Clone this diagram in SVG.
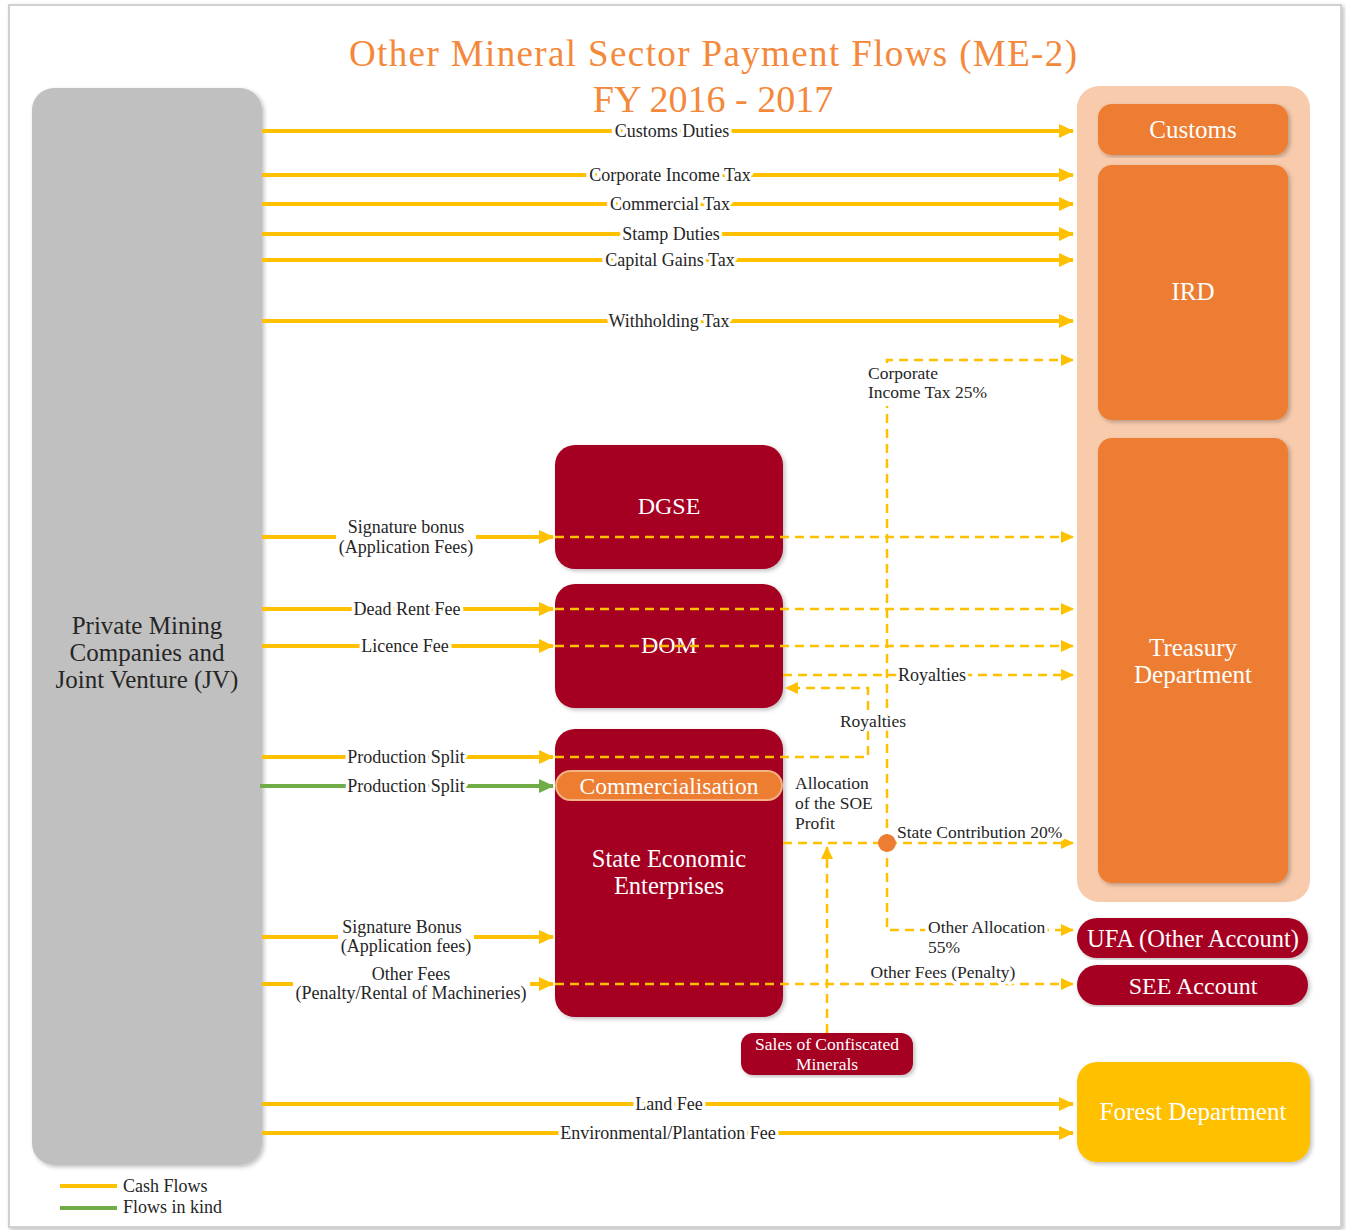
<svg xmlns="http://www.w3.org/2000/svg" width="1346" height="1230" viewBox="0 0 1346 1230">
<style>
text{font-family:"Liberation Serif","DejaVu Serif",serif;fill:#262626}
.lbl{font-size:18px;paint-order:stroke;stroke:#fff;stroke-width:7px;stroke-linejoin:round}
.sm{font-size:17.5px}
.wt{fill:#fff;text-anchor:middle}
.cash{stroke:#ffc000;stroke-width:4;fill:none}
.kind{stroke:#70ad47;stroke-width:4;fill:none}
.dash{stroke:#ffc000;stroke-width:2.5;fill:none;stroke-dasharray:9 6}
.mid{text-anchor:middle}
.bg{fill:#fff}
</style>
<defs>
<marker id="ah" markerUnits="userSpaceOnUse" markerWidth="16" markerHeight="16" refX="14" refY="8" orient="auto"><path d="M0,1 L15,8 L0,15 z" fill="#ffc000"/></marker>
<marker id="ahs" markerUnits="userSpaceOnUse" markerWidth="14" markerHeight="14" refX="12" refY="7" orient="auto"><path d="M0,1 L13,7 L0,13 z" fill="#ffc000"/></marker>
<marker id="ahg" markerUnits="userSpaceOnUse" markerWidth="16" markerHeight="16" refX="14" refY="8" orient="auto"><path d="M0,1 L15,8 L0,15 z" fill="#70ad47"/></marker>
<filter id="sh" x="-5%" y="-5%" width="110%" height="110%"><feDropShadow dx="2" dy="2" stdDeviation="2" flood-color="#000" flood-opacity="0.25"/></filter>
</defs>
<rect x="0" y="0" width="1346" height="1230" fill="#fff"/>
<rect x="9" y="5" width="1332" height="1222" fill="#fff" stroke="#d0d0d0" stroke-width="2" filter="url(#sh)"/>

<g id="title">
<text x="713" y="66" class="mid" style="font-size:37px;fill:#f4883b" textLength="728">Other Mineral Sector Payment Flows (ME-2)</text>
<text x="713" y="112" class="mid" style="font-size:38px;fill:#f4883b">FY 2016 - 2017</text>
</g>

<g id="private">
<rect x="32" y="88" width="230" height="1077" rx="22" fill="#c0c0c0" filter="url(#sh)"/>
<text x="147" y="634" class="mid" style="font-size:25px">Private Mining</text>
<text x="147" y="661" class="mid" style="font-size:25px">Companies and</text>
<text x="147" y="688" class="mid" style="font-size:25px">Joint Venture (JV)</text>
</g>

<g id="government">
<rect x="1077" y="86" width="233" height="816" rx="22" fill="#f8cbad"/>
</g>
<g id="customs"><rect x="1098" y="104" width="190" height="51" rx="14" fill="#ed7d31" filter="url(#sh)"/><text x="1193" y="138" class="wt" style="font-size:25px">Customs</text></g>
<g id="ird"><rect x="1098" y="165" width="190" height="255" rx="14" fill="#ed7d31" filter="url(#sh)"/><text x="1193" y="300" class="wt" style="font-size:25px">IRD</text></g>
<g id="treasury"><rect x="1098" y="438" width="190" height="445" rx="14" fill="#ed7d31" filter="url(#sh)"/><text x="1193" y="656" class="wt" style="font-size:25px">Treasury</text><text x="1193" y="683" class="wt" style="font-size:25px">Department</text></g>
<g id="ufa"><rect x="1077" y="918" width="231" height="40" rx="20" fill="#a50021" filter="url(#sh)"/><text x="1193" y="947" class="wt" style="font-size:24.5px">UFA (Other Account)</text></g>
<g id="seeacc"><rect x="1077" y="965" width="231" height="40" rx="20" fill="#a50021" filter="url(#sh)"/><text x="1193" y="994" class="wt" style="font-size:24px">SEE Account</text></g>
<g id="forest"><rect x="1077" y="1062" width="233" height="100" rx="20" fill="#ffc000" filter="url(#sh)"/><text x="1193" y="1120" class="wt" style="font-size:25px">Forest Department</text></g>

<g id="dgse"><rect x="555" y="445" width="228" height="124" rx="20" fill="#a50021" filter="url(#sh)"/><text x="669" y="514" class="wt" style="font-size:24px">DGSE</text></g>
<g id="dom"><rect x="555" y="584" width="228" height="124" rx="20" fill="#a50021" filter="url(#sh)"/><text x="669" y="653" class="wt" style="font-size:24px">DOM</text></g>
<g id="see"><rect x="555" y="729" width="228" height="288" rx="20" fill="#a50021" filter="url(#sh)"/><text x="669" y="867" class="wt" style="font-size:24.5px">State Economic</text><text x="669" y="894" class="wt" style="font-size:24.5px">Enterprises</text></g>
<g id="commercialisation"><rect x="556" y="771" width="226" height="29" rx="14.5" fill="#ed7d31" stroke="#f4b183" stroke-width="2"/><text x="669" y="794" class="wt" style="font-size:23.5px">Commercialisation</text></g>
<g id="sales"><rect x="741" y="1033" width="172" height="42" rx="12" fill="#a50021" filter="url(#sh)"/><text x="827" y="1050" class="wt" style="font-size:17.5px">Sales of Confiscated</text><text x="827" y="1070" class="wt" style="font-size:17.5px">Minerals</text></g>

<g id="connectors">
<path class="cash" d="M262,131 H1073" marker-end="url(#ah)"/>
<path class="cash" d="M262,175 H1073" marker-end="url(#ah)"/>
<path class="cash" d="M262,204 H1073" marker-end="url(#ah)"/>
<path class="cash" d="M262,234 H1073" marker-end="url(#ah)"/>
<path class="cash" d="M262,260 H1073" marker-end="url(#ah)"/>
<path class="cash" d="M262,321 H1073" marker-end="url(#ah)"/>
<path class="cash" d="M262,537 H553" marker-end="url(#ah)"/>
<path class="cash" d="M262,609 H553" marker-end="url(#ah)"/>
<path class="cash" d="M262,646 H553" marker-end="url(#ah)"/>
<path class="cash" d="M262,757 H553" marker-end="url(#ah)"/>
<path class="kind" d="M260,786 H553" marker-end="url(#ahg)"/>
<path class="cash" d="M262,937 H553" marker-end="url(#ah)"/>
<path class="cash" d="M262,984 H553" marker-end="url(#ah)"/>
<path class="cash" d="M262,1104 H1073" marker-end="url(#ah)"/>
<path class="cash" d="M262,1133 H1073" marker-end="url(#ah)"/>
<path class="dash" d="M555,537 H1073" marker-end="url(#ahs)"/>
<path class="dash" d="M555,609 H1073" marker-end="url(#ahs)"/>
<path class="dash" d="M555,646 H1073" marker-end="url(#ahs)"/>
<path class="dash" d="M783,675 H1073" marker-end="url(#ahs)"/>
<path class="dash" d="M555,757 H868 V688 H786" marker-end="url(#ahs)"/>
<path class="dash" d="M887,843 V360 H1073" marker-end="url(#ahs)"/>
<path class="dash" d="M783,843 H1073" marker-end="url(#ahs)"/>
<path class="dash" d="M887,843 V930 H1073" marker-end="url(#ahs)"/>
<path class="dash" d="M555,984 H1073" marker-end="url(#ahs)"/>
<path class="dash" d="M827,1033 V847" marker-end="url(#ahs)"/>
<circle cx="887" cy="843" r="9" fill="#ed7d31"/>
</g>

<g id="labels">
<rect class="bg" x="336" y="518" width="140" height="38"/>
<rect class="bg" x="338" y="919" width="136" height="36"/>
<rect class="bg" x="293" y="965" width="237" height="37"/>
<text x="672" y="137" class="lbl mid">Customs Duties</text>
<text x="670" y="181" class="lbl mid">Corporate Income Tax</text>
<text x="670" y="210" class="lbl mid">Commercial Tax</text>
<text x="671" y="240" class="lbl mid">Stamp Duties</text>
<text x="670" y="266" class="lbl mid">Capital Gains Tax</text>
<text x="669" y="327" class="lbl mid">Withholding Tax</text>
<text x="406" y="533" class="lbl mid">Signature bonus</text>
<text x="406" y="553" class="lbl mid">(Application Fees)</text>
<text x="407" y="615" class="lbl mid">Dead Rent Fee</text>
<text x="405" y="652" class="lbl mid">Licence Fee</text>
<text x="406" y="763" class="lbl mid">Production Split</text>
<text x="406" y="792" class="lbl mid">Production Split</text>
<text x="402" y="933" class="lbl mid">Signature Bonus</text>
<text x="406" y="952" class="lbl mid">(Application fees)</text>
<text x="411" y="980" class="lbl mid">Other Fees</text>
<text x="411" y="999" class="lbl mid">(Penalty/Rental of Machineries)</text>
<text x="669" y="1110" class="lbl mid">Land Fee</text>
<text x="668" y="1139" class="lbl mid">Environmental/Plantation Fee</text>
<rect class="bg" x="866" y="364" width="126" height="42"/>
<text x="868" y="379" class="lbl sm">Corporate</text>
<text x="868" y="398" class="lbl sm">Income Tax 25%</text>
<text x="932" y="681" class="lbl mid">Royalties</text>
<text x="873" y="727" class="lbl mid sm">Royalties</text>
<text x="795" y="789" class="lbl sm">Allocation</text>
<text x="795" y="809" class="lbl sm">of the SOE</text>
<text x="795" y="829" class="lbl sm">Profit</text>
<text x="897" y="838" class="lbl sm">State Contribution 20%</text>
<text x="928" y="933" class="lbl sm">Other Allocation</text>
<text x="928" y="953" class="lbl sm">55%</text>
<text x="943" y="978" class="lbl mid sm">Other Fees (Penalty)</text>
</g>

<g id="legend">
<line x1="60" y1="1186" x2="117" y2="1186" class="cash"/>
<line x1="60" y1="1208" x2="117" y2="1208" class="kind"/>
<text x="123" y="1192" style="font-size:18px">Cash Flows</text>
<text x="123" y="1213" style="font-size:18px">Flows in kind</text>
</g>
</svg>
